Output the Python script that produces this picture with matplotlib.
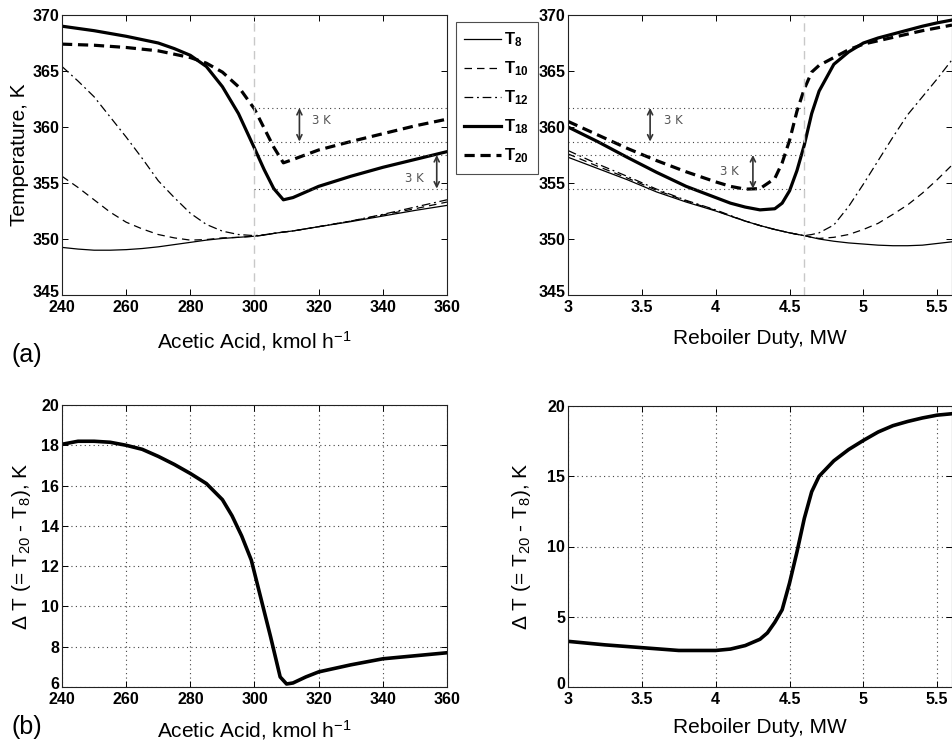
import matplotlib
matplotlib.use("Agg")
import matplotlib.pyplot as plt
import matplotlib.transforms as mtransforms
from matplotlib.lines import Line2D

plt.rcParams['font.family'] = ['Liberation Sans', 'DejaVu Sans']
plt.rcParams['mathtext.fontset'] = 'custom'
plt.rcParams['mathtext.rm'] = 'Liberation Sans'
plt.rcParams['mathtext.bf'] = 'Liberation Sans:bold'
plt.rcParams['mathtext.default'] = 'regular'

# ---- (a) left: temperatures vs acetic acid feed ----
acid = [240, 245, 250, 255, 260, 265, 270, 275, 280, 285, 290, 295, 300,
        303, 306, 309, 312, 320, 330, 340, 350, 360]
acid_T8 = [349.25, 349.1, 349.0, 349.0, 349.05, 349.15, 349.3, 349.5, 349.7, 349.9, 350.05, 350.15, 350.25,
           350.35, 350.5, 350.62, 350.72, 351.1, 351.55, 352.05, 352.55, 353.0]
acid_T10 = [355.6, 354.6, 353.5, 352.4, 351.5, 350.9, 350.4, 350.1, 349.9, 349.95, 350.1, 350.15, 350.25,
            350.35, 350.5, 350.62, 350.72, 351.1, 351.6, 352.15, 352.7, 353.3]
acid_T12 = [365.4, 364.1, 362.7, 360.9, 359.1, 357.2, 355.2, 353.7, 352.3, 351.3, 350.7, 350.4, 350.3,
            350.38, 350.5, 350.62, 350.72, 351.1, 351.6, 352.2, 352.85, 353.5]
acid_T18 = [369.0, 368.8, 368.6, 368.35, 368.1, 367.8, 367.5, 367.0, 366.4, 365.4, 363.6, 361.2, 358.1,
            356.2, 354.5, 353.5, 353.7, 354.7, 355.6, 356.4, 357.1, 357.8]
acid_T20 = [367.4, 367.35, 367.3, 367.2, 367.1, 366.95, 366.8, 366.5, 366.2, 365.7, 364.9, 363.6, 361.6,
            359.9, 358.2, 356.8, 357.1, 357.95, 358.7, 359.4, 360.1, 360.7]

# ---- (a) right: temperatures vs reboiler duty ----
duty = [3.0, 3.2, 3.4, 3.6, 3.8, 4.0, 4.1, 4.2, 4.3, 4.4, 4.45, 4.5, 4.55, 4.6,
        4.65, 4.7, 4.8, 4.9, 5.0, 5.1, 5.2, 5.3, 5.4, 5.5, 5.6]
duty_T8 = [357.3, 356.3, 355.3, 354.2, 353.3, 352.5, 352.05, 351.6, 351.2, 350.85, 350.7, 350.55, 350.42, 350.3,
           350.15, 350.0, 349.8, 349.65, 349.55, 349.45, 349.4, 349.4, 349.45, 349.6, 349.75]
duty_T10 = [357.6, 356.5, 355.45, 354.35, 353.4, 352.55, 352.05, 351.6, 351.2, 350.85, 350.7, 350.55, 350.42, 350.3,
            350.15, 350.05, 350.15, 350.4, 350.85, 351.4, 352.2, 353.05, 354.1, 355.3, 356.6]
duty_T12 = [357.9, 356.7, 355.6, 354.45, 353.45, 352.6, 352.1, 351.6, 351.2, 350.85, 350.7, 350.55, 350.42, 350.3,
            350.4, 350.55, 351.25, 352.9, 354.9, 357.0, 359.1, 361.1, 362.7, 364.3, 366.0]
duty_T18 = [360.0, 358.7, 357.3, 355.95, 354.7, 353.7, 353.2, 352.85, 352.6, 352.7, 353.2, 354.3, 356.1, 358.4,
            361.2, 363.2, 365.6, 366.7, 367.5, 367.95, 368.3, 368.65, 369.0, 369.3, 369.55]
duty_T20 = [360.5, 359.3, 358.1, 357.0, 356.0, 355.1, 354.7, 354.45, 354.5, 355.4, 356.8, 358.8, 361.4, 363.4,
            364.9, 365.5, 366.2, 366.9, 367.4, 367.7, 368.0, 368.3, 368.6, 368.85, 369.1]

# ---- (b): temperature difference T20 - T8 ----
acid_b = [240, 245, 250, 255, 260, 265, 270, 275, 280, 285, 290, 293, 296, 299, 302, 305, 308,
          310, 312, 316, 320, 330, 340, 350, 360]
acid_dT = [18.05, 18.2, 18.2, 18.15, 18.0, 17.8, 17.45, 17.05, 16.6, 16.1, 15.3, 14.5, 13.5, 12.3, 10.4, 8.5, 6.5,
           6.15, 6.2, 6.5, 6.75, 7.1, 7.4, 7.55, 7.7]
duty_b = [3.0, 3.25, 3.5, 3.75, 4.0, 4.1, 4.2, 4.3, 4.35, 4.4, 4.45, 4.5, 4.55, 4.6, 4.65, 4.7,
          4.8, 4.9, 5.0, 5.1, 5.2, 5.3, 5.4, 5.5, 5.6]
duty_dT = [3.25, 3.0, 2.8, 2.6, 2.6, 2.7, 2.95, 3.4, 3.85, 4.6, 5.5, 7.4, 9.6, 12.0, 13.9, 15.0,
           16.1, 16.9, 17.55, 18.15, 18.6, 18.9, 19.15, 19.35, 19.45]

# 3 K bands (dotted reference levels) and nominal operating points
band_levels = [361.7, 358.7, 357.5, 354.5]
acid_nominal = 300
duty_nominal = 4.6

legend_labels = [r'$\mathbf{T_{8}}$', r'$\mathbf{T_{10}}$', r'$\mathbf{T_{12}}$',
                 r'$\mathbf{T_{18}}$', r'$\mathbf{T_{20}}$']
line_styles = [dict(lw=0.9, ls='-'),
               dict(lw=0.9, ls=(0, (6, 4))),
               dict(lw=0.9, ls=(0, (7, 3, 1.5, 3))),
               dict(lw=2.3, ls='-'),
               dict(lw=2.3, ls=(0, (3.2, 1.8)))]

W, H = 953, 743
fig = plt.figure(figsize=(W / 100, H / 100), dpi=100)


def px_axes(x0, y0, x1, y1):
    # axes from pixel box (top-left origin)
    return fig.add_axes([x0 / W, 1 - y1 / H, (x1 - x0) / W, (y1 - y0) / H])


def style_axes(ax):
    ax.tick_params(direction='in', length=4, width=0.7, top=True, right=True, pad=2,
                   labelsize=11.5, colors='black')
    ax.tick_params(axis='x', pad=3.5)
    for lab in ax.get_xticklabels() + ax.get_yticklabels():
        lab.set_fontweight('bold')
    # lift the lowest y label a little so it clears the first x label
    lift = mtransforms.ScaledTranslation(0, 3 / 72, fig.dpi_scale_trans)
    low = ax.get_yticklabels()[0]
    low.set_transform(low.get_transform() + lift)
    for sp in ax.spines.values():
        sp.set_color('#222222')
        sp.set_linewidth(0.8)


def band_arrow(ax, x, lo, hi):
    ax.annotate('', xy=(x, lo), xytext=(x, hi),
                arrowprops=dict(arrowstyle='<->', color='#333333', lw=1.2, mutation_scale=9,
                                shrinkA=0, shrinkB=0))


ax1 = px_axes(62, 15, 447, 295)
ax2 = px_axes(568, 15, 952, 295)
ax3 = px_axes(62, 405, 447, 687)
ax4 = px_axes(568, 406, 952, 687)

# top left
for ys, st in zip([acid_T8, acid_T10, acid_T12, acid_T18, acid_T20], line_styles):
    ax1.plot(acid, ys, color='black', **st)
ax1.axvline(acid_nominal, color='#c8c8c8', lw=1, ls=(0, (6, 4)))
for lev in band_levels:
    ax1.plot([acid_nominal, 360], [lev, lev], color='#444444', lw=0.8, ls=(0, (1, 3)))
band_arrow(ax1, 314, band_levels[1], band_levels[0])
band_arrow(ax1, 356.8, band_levels[3], band_levels[2])
ax1.text(318, 360.6, '3 K', fontsize=8.5, color='#555555', va='center', family='DejaVu Sans')
ax1.text(347, 355.4, '3 K', fontsize=8.5, color='#555555', va='center', family='DejaVu Sans')
ax1.set_xlim(240, 360)
ax1.set_ylim(345, 370)
ax1.set_xticks(range(240, 361, 20))
ax1.set_yticks(range(345, 371, 5))
ax1.set_xlabel(r'Acetic Acid, kmol h$^{-1}$', fontsize=15, labelpad=10)
ax1.set_ylabel('Temperature, K', fontsize=15, labelpad=2)
style_axes(ax1)

# top right
for ys, st in zip([duty_T8, duty_T10, duty_T12, duty_T18, duty_T20], line_styles):
    ax2.plot(duty, ys, color='black', **st)
ax2.axvline(duty_nominal, color='#c8c8c8', lw=1, ls=(0, (6, 4)))
for lev in band_levels:
    ax2.plot([3, duty_nominal], [lev, lev], color='#444444', lw=0.8, ls=(0, (1, 3)))
band_arrow(ax2, 3.556, band_levels[1], band_levels[0])
band_arrow(ax2, 4.252, band_levels[3], band_levels[2])
ax2.text(3.65, 360.6, '3 K', fontsize=8.5, color='#555555', va='center', family='DejaVu Sans')
ax2.text(4.03, 356.0, '3 K', fontsize=8.5, color='#555555', va='center', family='DejaVu Sans')
ax2.set_xlim(3, 5.6)
ax2.set_ylim(345, 370)
ax2.set_xticks([3, 3.5, 4, 4.5, 5, 5.5])
ax2.set_xticklabels(['3', '3.5', '4', '4.5', '5', '5.5'])
ax2.set_yticks(range(345, 371, 5))
ax2.set_xlabel('Reboiler Duty, MW', fontsize=15, labelpad=10)
style_axes(ax2)

# bottom left
ax3.plot(acid_b, acid_dT, color='black', lw=2.6)
ax3.set_xlim(240, 360)
ax3.set_ylim(6, 20)
ax3.set_xticks(range(240, 361, 20))
ax3.set_yticks(range(6, 21, 2))
ax3.grid(True, color='#444444', ls=(0, (1, 3)), lw=0.8)
ax3.set_xlabel(r'Acetic Acid, kmol h$^{-1}$', fontsize=15, labelpad=8)
ax3.set_ylabel(r'Δ T (= T$_{20}$ - T$_{8}$), K', fontsize=15, labelpad=6)
style_axes(ax3)

# bottom right
ax4.plot(duty_b, duty_dT, color='black', lw=2.6)
ax4.set_xlim(3, 5.6)
ax4.set_ylim(0, 20)
ax4.set_xticks([3, 3.5, 4, 4.5, 5, 5.5])
ax4.set_xticklabels(['3', '3.5', '4', '4.5', '5', '5.5'])
ax4.set_yticks([0, 5, 10, 15, 20])
ax4.grid(True, color='#444444', ls=(0, (1, 3)), lw=0.8)
ax4.set_xlabel('Reboiler Duty, MW', fontsize=15, labelpad=8)
ax4.set_ylabel(r'Δ T (= T$_{20}$ - T$_{8}$), K', fontsize=15, labelpad=10)
style_axes(ax4)

# shared legend between the two top panels
handles = [Line2D([], [], color='black', **st) for st in line_styles]
leg = fig.legend(handles, legend_labels, loc='upper left', bbox_to_anchor=(456 / W, 1 - 22 / H),
                 fontsize=12, frameon=True, fancybox=False, borderaxespad=0, borderpad=0.5,
                 handlelength=2.2, handletextpad=0.2, labelspacing=0.62)
leg.get_frame().set_edgecolor('#222222')
leg.get_frame().set_linewidth(0.8)

fig.text(12 / W, 1 - 355 / H, '(a)', fontsize=18, va='center')
fig.text(12 / W, 1 - 727 / H, '(b)', fontsize=18, va='center')

plt.savefig('out.png', dpi=100)
